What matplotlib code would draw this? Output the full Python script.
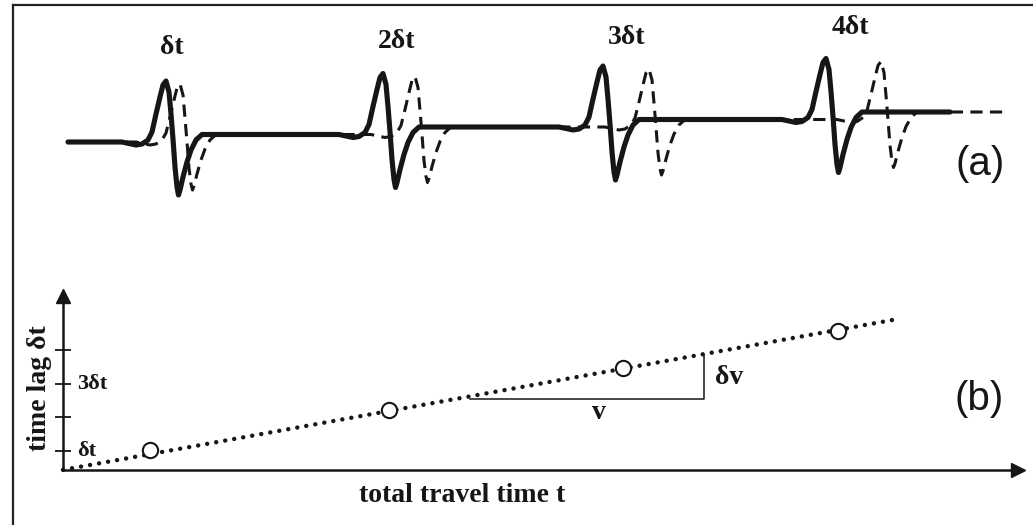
import matplotlib
matplotlib.use("Agg")
import matplotlib.pyplot as plt

# ---- panel (a): a pulse train and its delayed copy ----
pulse_time = [16.6, 38.3, 60.3, 82.6]        # peak time of each solid pulse
pulse_delay = [1.4, 3.2, 4.6, 5.5]           # lag of the dashed pulse behind it
pulse_base = [0.0, 7.5, 15.0, 22.5, 30.0]    # trace level before each pulse / at the end
pulse_labels = ["δt", "2δt", "3δt", "4δt"]
label_time = [17.2, 39.7, 62.7, 85.0]
label_amp = [95, 101, 105, 114]

# one wavelet, time relative to its peak, amplitude above the level before it
wave_dt = [-4.4, -3.0, -2.4, -1.8, -1.4, -1.0, -0.6, -0.3, 0.0, 0.3, 0.5,
           0.7, 0.9, 1.1, 1.25, 1.4, 1.7, 2.1, 2.5, 3.0, 3.6, 4.4]
wave_solid = [0, -3, -2, 2, 10, 28, 45, 57, 61, 50, 28,
              3, -25, -45, -53, -48, -35, -20, -8, 2, 7.5, 7.5]
wave_dashed = [0, -3, -2, 2, 9, 25, 42, 54, 58, 47, 24,
               0, -26, -42, -48, -44, -32, -18, -7, 2, 7.5, 7.5]

trace_start = 6.8
solid_end = 95.0
dashed_end = 100.5

# ---- panel (b): time lag against total travel time ----
travel_time = [0.87, 3.26, 5.60, 7.75]
time_lag = [1.03, 2.22, 3.46, 4.56]
fit_time = [0.0, 8.30]
fit_lag = [0.44, 4.89]
slope_time = [4.07, 6.41, 6.41]
slope_lag = [2.54, 2.54, 3.85]
lag_ticks = [1, 2, 3, 4]
lag_ticklabels = ["δt", "", "3δt", ""]

INK = "#161616"
SERIF = "Liberation Serif"
SANS = "Liberation Sans"


def build_trace(shape, delays, end):
    t = [trace_start]
    a = [pulse_base[0]]
    for k, t0 in enumerate(pulse_time):
        for dt, amp in zip(wave_dt, shape):
            t.append(t0 + delays[k] + dt)
            a.append(pulse_base[k] + amp)
    t.append(end)
    a.append(pulse_base[-1])
    return t, a


fig = plt.figure(figsize=(10.33, 5.25), dpi=100)

# top panel spans the whole figure so the frame can live in it too
ax_a = fig.add_axes([0, 0, 1, 1])
ax_a.set_xlim(0, 103.3)
ax_a.set_ylim(-383, 142)
ax_a.axis("off")

t_d, a_d = build_trace(wave_dashed, pulse_delay, dashed_end)
t_s, a_s = build_trace(wave_solid, [0] * len(pulse_time), solid_end)
ax_a.plot(t_d, a_d, color=INK, lw=2.2, ls=(0, (4, 2.4)), zorder=2)
ax_a.plot(t_s, a_s, color=INK, lw=3.7, solid_joinstyle="round",
          solid_capstyle="round", zorder=3)

for lab, x, y in zip(pulse_labels, label_time, label_amp):
    ax_a.text(x, y, lab, ha="center", va="center", fontsize=20,
              fontweight="bold", family=SERIF, color=INK)

# frame: top and left edges only
ax_a.plot([13 / 1033, 1], [1 - 5 / 525, 1 - 5 / 525], color="#222222",
          lw=1.6, transform=ax_a.transAxes, clip_on=False)
ax_a.plot([13 / 1033, 13 / 1033], [0, 1 - 5 / 525], color="#222222",
          lw=1.6, transform=ax_a.transAxes, clip_on=False)

fig.text(980 / 1033, 1 - 164 / 525, "(a)", ha="center", va="center",
         fontsize=29, family=SANS, color=INK)
fig.text(979 / 1033, 1 - 399 / 525, "(b)", ha="center", va="center",
         fontsize=29, family=SANS, color=INK)

# lower panel
ax_b = fig.add_axes([63 / 1033, 55 / 525, 955 / 1033, 174 / 525])
ax_b.patch.set_visible(False)
ax_b.set_xlim(0, 9.55)
ax_b.set_ylim(0.436, 5.6)
for side in ("top", "right"):
    ax_b.spines[side].set_visible(False)
for side in ("left", "bottom"):
    ax_b.spines[side].set_linewidth(1.8)
    ax_b.spines[side].set_color(INK)
ax_b.set_xticks([])
ax_b.set_yticks(lag_ticks)
ax_b.set_yticklabels([])
ax_b.tick_params(axis="y", direction="inout", length=11, width=1.3,
                 color=INK)
ax_b.plot(1, 0, ">", color=INK, ms=10, transform=ax_b.transAxes,
          clip_on=False)
ax_b.plot(0, 1, "^", color=INK, ms=10, transform=ax_b.transAxes,
          clip_on=False)

for val, lab in zip(lag_ticks, lag_ticklabels):
    if lab:
        ax_b.annotate(lab, xy=(0, val), xycoords=("axes fraction", "data"),
                      xytext=(10, 0), textcoords="offset points",
                      ha="left", va="center", fontsize=16,
                      fontweight="bold", family=SERIF, color=INK)

ax_b.plot(fit_time, fit_lag, color=INK, lw=3.2, ls=(0, (0.01, 2.05)),
          dash_capstyle="round", clip_on=False, zorder=2)
ax_b.plot(travel_time, time_lag, "o", ms=11, mfc="white", mec=INK,
          mew=1.5, ls="none", clip_on=False, zorder=3)
ax_b.plot(slope_time, slope_lag, color=INK, lw=1.1, zorder=1)
ax_b.text(5.36, 2.13, "v", ha="center", va="center", fontsize=20,
          fontweight="bold", family=SERIF, color=INK)
ax_b.text(6.52, 3.17, "δv", ha="left", va="center", fontsize=20,
          fontweight="bold", family=SERIF, color=INK)

ax_b.set_ylabel("time lag δt", fontsize=20, fontweight="bold",
                family=SERIF, color=INK, va="center")
ax_b.yaxis.set_label_coords(-23 / 955, (470 - 388) / 174)
ax_b.set_xlabel("total travel time t", fontsize=20, fontweight="bold",
                family=SERIF, color=INK, va="center")
ax_b.xaxis.set_label_coords((462 - 63) / 955, -(496 - 470) / 174)

fig.savefig("out.png", dpi=100, facecolor="white")
